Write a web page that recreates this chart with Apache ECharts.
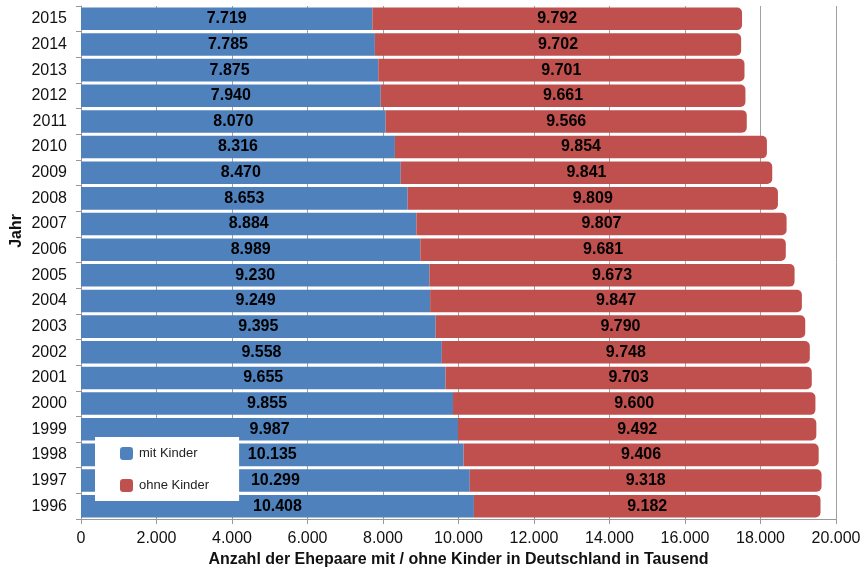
<!DOCTYPE html>
<html>
<head>
<meta charset="utf-8">
<script src="https://cdn.jsdelivr.net/npm/echarts@6/dist/echarts.min.js"></script>
<style>html,body{margin:0;padding:0;background:#fff}#c{width:868px;height:568px}</style>
</head>
<body>
<div id="c"></div>
<script>
const years = ['1996','1997','1998','1999','2000','2001','2002','2003','2004','2005','2006','2007','2008','2009','2010','2011','2012','2013','2014','2015'];
const mitKinder = [10408,10299,10135,9987,9855,9655,9558,9395,9249,9230,8989,8884,8653,8470,8316,8070,7940,7875,7785,7719];
const ohneKinder = [9182,9318,9406,9492,9600,9703,9748,9790,9847,9673,9681,9807,9809,9841,9854,9566,9661,9701,9702,9792];
const seriesNames = ['mit Kinder','ohne Kinder'];
const xAxisTitle = 'Anzahl der Ehepaare mit / ohne Kinder in Deutschland in Tausend';
const yAxisTitle = 'Jahr';

const fmt = v => {
  const s = String(Math.round(v));
  return s.replace(/\B(?=(\d{3})+(?!\d))/g, '.');
};
const font = '"Liberation Sans", Arial, sans-serif';
const chart = echarts.init(document.getElementById('c'), null, {renderer:'canvas'});
const labelCfg = {show:true, position:'inside', color:'#000', fontWeight:'bold', fontSize:16, fontFamily:font, formatter:p=>fmt(p.value)};
chart.setOption({
  animation:false,
  textStyle:{fontFamily:font},
  grid:{left:81, right:32, top:6, bottom:49, containLabel:false, outerBoundsMode:'none'},
  legend:{
    orient:'vertical', left:95, top:437,
    backgroundColor:'#fff', padding:[10,30,9,25], itemGap:19,
    itemWidth:13, itemHeight:13, icon:'roundRect',
    textStyle:{fontSize:13, color:'#222', fontFamily:font, padding:[0,0,0,1]},
    data:seriesNames
  },
  xAxis:{
    type:'value', min:0, max:20000, interval:2000,
    axisLine:{show:true, lineStyle:{color:'#999'}},
    axisTick:{show:true, length:5, lineStyle:{color:'#999'}},
    axisLabel:{formatter:fmt, fontSize:16, color:'#111', margin:12, fontFamily:font},
    splitLine:{show:true, lineStyle:{color:'#a0a0a0', width:1}},
    name:xAxisTitle, nameLocation:'middle', nameGap:32,
    nameTextStyle:{fontWeight:'bold', fontSize:16, color:'#111', fontFamily:font}
  },
  yAxis:{
    type:'category', data:years,
    axisLine:{show:true, lineStyle:{color:'#999'}},
    axisTick:{show:true, length:5, lineStyle:{color:'#999'}},
    axisLabel:{fontSize:16, color:'#111', margin:14, fontFamily:font},
    splitLine:{show:false}
  },
  graphic:[{
    type:'text', left:9, top:214, rotation:Math.PI/2,
    style:{text:yAxisTitle, font:'bold 16px '+font, fill:'#111'}
  }],
  series:[
    {name:seriesNames[0], type:'bar', stack:'a', data:mitKinder, barCategoryGap:'12%',
     itemStyle:{color:'#4F81BD'}, label:labelCfg},
    {name:seriesNames[1], type:'bar', stack:'a', data:ohneKinder, barCategoryGap:'12%',
     itemStyle:{color:'#C0504D', borderRadius:[0,5,5,0]}, label:labelCfg}
  ]
});
</script>
</body>
</html>
